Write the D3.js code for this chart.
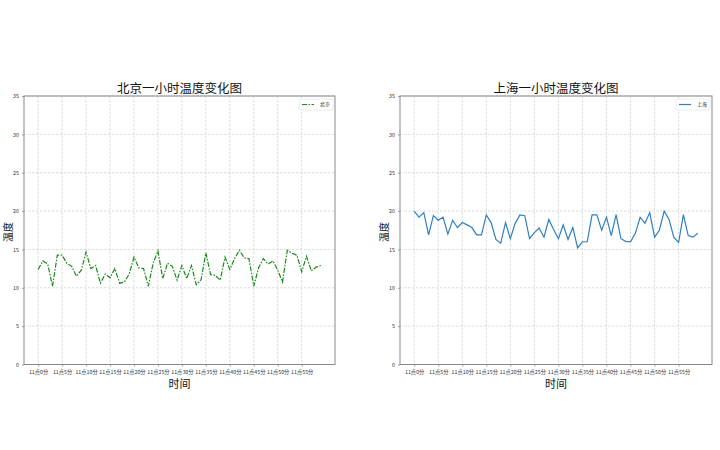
<!DOCTYPE html>
<html><head><meta charset="utf-8">
<script src="https://cdn.jsdelivr.net/npm/d3@7"></script>
<style>body{margin:0;background:#fff}svg{display:block}text{font-family:"Noto Sans CJK SC","DejaVu Sans",sans-serif}</style>
</head><body>
<svg id="c" width="720" height="450"></svg>
<script>
const minutes = d3.range(60);
const xTickLabels = d3.range(0, 60, 5).map(m => "11点" + m + "分");
const yTicks = [0, 5, 10, 15, 20, 25, 30, 35];
const beijing = [12.4,13.5,13.1,10.2,14.25,14.25,13.2,12.8,11.5,12.3,14.65,12.5,12.9,10.6,11.8,11.3,12.5,10.6,10.75,11.8,14.0,12.6,12.5,10.2,13.2,14.8,11.2,13.2,12.8,11.0,12.9,11.2,12.9,10.4,11.05,14.55,11.7,11.6,11.0,14.0,12.4,13.8,14.9,13.9,13.8,10.2,12.6,13.8,13.1,13.5,12.3,10.75,14.9,14.5,14.25,12.1,14.1,12.2,12.7,12.9];
const shanghai = [20.0,19.2,19.8,16.9,19.4,18.8,19.2,17.0,18.8,17.85,18.5,18.2,17.85,16.9,16.9,19.5,18.5,16.3,15.8,18.5,16.4,18.4,19.5,19.4,16.4,17.2,17.8,16.6,18.9,17.6,16.4,18.2,16.3,17.85,15.2,16.0,16.0,19.5,19.5,17.5,19.2,16.8,19.55,16.4,16.05,16.0,17.1,19.2,18.4,19.8,16.6,17.5,20.0,18.95,16.6,15.9,19.55,16.8,16.6,17.1];
const panels = [
  {title: "北京一小时温度变化图", name: "北京", data: beijing, color: "#1a8a1a", dash: "5,1.5,1.5,1.5", x0: 24, x1: 335},
  {title: "上海一小时温度变化图", name: "上海", data: shanghai, color: "#2f7fc1", dash: null, x0: 400, x1: 712}
];
const svg = d3.select("#c");
const plotTop = 96, plotBottom = 364.5;
panels.forEach(p => {
  const g = svg.append("g");
  const x = d3.scaleLinear().domain([-2.95, 61.95]).range([p.x0, p.x1]);
  const y = d3.scaleLinear().domain([0, 35]).range([plotBottom, plotTop]);
  g.selectAll(".gx").data(d3.range(0, 60, 5)).join("line")
    .attr("x1", d => x(d)).attr("x2", d => x(d)).attr("y1", plotTop).attr("y2", plotBottom)
    .attr("stroke", "#c4c4c4").attr("stroke-width", 0.6).attr("stroke-dasharray", "2.5,1.5");
  g.selectAll(".gy").data(yTicks).join("line")
    .attr("x1", p.x0).attr("x2", p.x1).attr("y1", d => y(d)).attr("y2", d => y(d))
    .attr("stroke", "#c4c4c4").attr("stroke-width", 0.6).attr("stroke-dasharray", "2.5,1.5");
  const xa = g.append("g").attr("transform", `translate(0,${plotBottom})`)
    .call(d3.axisBottom(x).tickValues(d3.range(0, 60, 5)).tickFormat((d, i) => xTickLabels[i]).tickSize(2).tickSizeOuter(0));
  const ya = g.append("g").attr("transform", `translate(${p.x0},0)`)
    .call(d3.axisLeft(y).tickValues(yTicks).tickSize(2).tickSizeOuter(0));
  [xa, ya].forEach(a => {
    a.select(".domain").remove();
    a.selectAll("line").attr("stroke", "#666").attr("stroke-width", 0.6);
    a.selectAll("text").attr("font-size", 5.3).attr("fill", "#333");
  });
  xa.selectAll("text").attr("dy", "0.85em");
  g.append("rect").attr("x", p.x0).attr("y", plotTop).attr("width", p.x1 - p.x0).attr("height", plotBottom - plotTop)
    .attr("fill", "none").attr("stroke", "#888").attr("stroke-width", 1);
  const line = d3.line().x((d, i) => x(minutes[i])).y(d => y(d));
  g.append("path").datum(p.data).attr("d", line).attr("fill", "none")
    .attr("stroke", p.color).attr("stroke-width", 1.2)
    .attr("stroke-dasharray", p.dash);
  const cx = (p.x0 + p.x1) / 2;
  g.append("text").attr("x", cx).attr("y", 93).attr("text-anchor", "middle")
    .attr("font-size", 12.5).attr("fill", "#111").text(p.title);
  g.append("text").attr("x", cx).attr("y", 387.5).attr("text-anchor", "middle")
    .attr("font-size", 11).attr("fill", "#111").text("时间");
  g.append("text").attr("transform", `translate(${p.x0 - 12},232) rotate(-90)`).attr("text-anchor", "middle")
    .attr("font-size", 10).attr("fill", "#111").text("温度");
  const lx = p.x1 - 36, ly = 99;
  g.append("rect").attr("x", lx).attr("y", ly).attr("width", 34).attr("height", 11)
    .attr("fill", "#fff").attr("stroke", "#ddd").attr("stroke-width", 0.6).attr("rx", 1);
  g.append("line").attr("x1", lx + 3).attr("x2", lx + 15).attr("y1", ly + 5.5).attr("y2", ly + 5.5)
    .attr("stroke", p.color).attr("stroke-width", 1.2).attr("stroke-dasharray", p.dash);
  g.append("text").attr("x", lx + 21).attr("y", ly + 7.3).attr("font-size", 5).attr("fill", "#222").text(p.name);
});
</script>
</body></html>
